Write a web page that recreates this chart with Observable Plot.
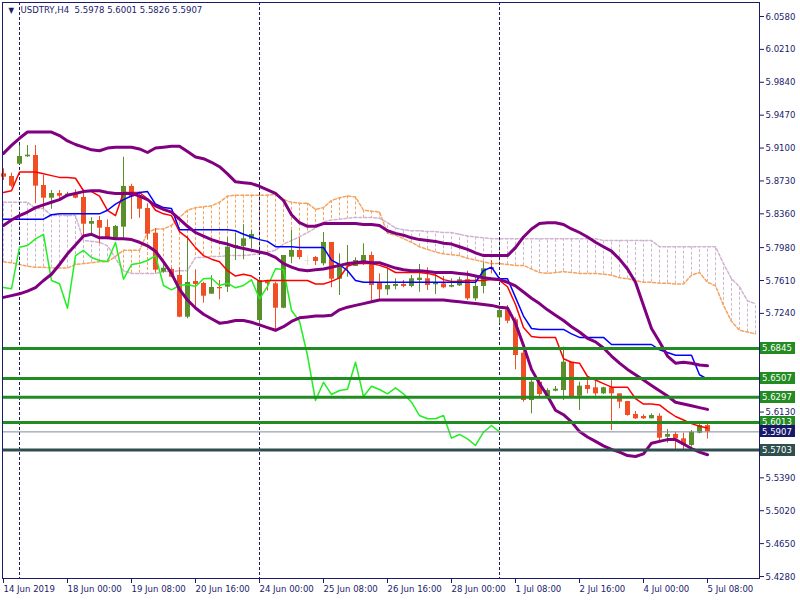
<!DOCTYPE html>
<html><head><meta charset="utf-8">
<script src="https://cdn.jsdelivr.net/npm/d3@7"></script>
<script src="https://cdn.jsdelivr.net/npm/@observablehq/plot@0.6"></script>
<style>body{margin:0;background:#fff}</style>
</head><body><div id="chart"></div>
<script>
// ---- data (USDTRY H4, 14 Jun 2019 16:00 .. 5 Jul 2019 08:00) ----
const openP  = [5.8810,5.8780,5.8918,5.9002,5.9016,5.8679,5.8536,5.8589,5.8563,5.8578,
 5.8544,5.8243,5.8285,5.8206,5.8079,5.8210,5.8668,5.8563,5.8420,5.8142,
 5.7703,5.7734,5.7666,5.7197,5.7599,5.7576,5.7456,5.7531,5.7535,5.7973,
 5.7993,5.8075,5.7160,5.7610,5.7573,5.7298,5.7872,5.7948,5.7835,5.7869,
 5.7798,5.8038,5.7625,5.7771,5.7768,5.7798,5.7891,5.7580,5.7505,5.7543,
 5.7565,5.7543,5.7610,5.7629,5.7562,5.7572,5.7535,5.7550,5.7618,5.7404,
 5.7543,5.7753,5.7190,5.7280,5.7168,5.6792,5.6260,5.6466,5.6297,5.6365,
 5.6372,5.6691,5.6308,5.6429,5.6403,5.6335,5.6403,5.6335,5.6249,5.6103,
 5.6080,5.6054,5.6083,5.5847,5.5878,5.5829,5.5754,5.5892,5.5978];
const highP  = [5.8867,5.8817,5.9129,5.9129,5.9129,5.8791,5.8623,5.8623,5.8603,5.8630,
 5.8630,5.8315,5.8330,5.8293,5.8229,5.8997,5.8693,5.8603,5.8473,5.8195,
 5.7835,5.7753,5.7753,5.8105,5.7730,5.7591,5.7663,5.7610,5.8090,5.8142,
 5.8237,5.8176,5.7629,5.7610,5.7591,5.7891,5.8173,5.8090,5.7891,5.7880,
 5.8150,5.8038,5.7910,5.8004,5.7865,5.8023,5.7928,5.7685,5.7742,5.7629,
 5.7610,5.7666,5.7790,5.7753,5.7678,5.7655,5.7629,5.7647,5.7715,5.7647,
 5.7809,5.7835,5.7292,5.7329,5.7190,5.6845,5.6485,5.6485,5.6392,5.6418,
 5.6860,5.6691,5.6466,5.6522,5.6485,5.6410,5.6485,5.6335,5.6249,5.6136,
 5.6099,5.6110,5.6110,5.5934,5.5903,5.5892,5.5923,5.5990,5.6001];
const lowP   = [5.8735,5.8653,5.8912,5.8994,5.8473,5.8417,5.8412,5.8510,5.8547,5.8529,
 5.8090,5.8135,5.8023,5.8068,5.8068,5.8079,5.8296,5.8311,5.8068,5.7692,
 5.7692,5.7640,5.7190,5.7179,5.7292,5.7355,5.7456,5.7393,5.7475,5.7835,
 5.7843,5.7967,5.7115,5.7490,5.7028,5.7292,5.7798,5.7843,5.7779,5.7779,
 5.7775,5.7528,5.7441,5.7647,5.7768,5.7779,5.7385,5.7393,5.7441,5.7505,
 5.7528,5.7528,5.7478,5.7498,5.7453,5.7517,5.7528,5.7543,5.7385,5.7377,
 5.7460,5.7685,5.7123,5.7123,5.6605,5.6241,5.6110,5.6279,5.6279,5.6358,
 5.6260,5.6297,5.6148,5.6335,5.6308,5.6327,5.5923,5.6167,5.6083,5.6046,
 5.6046,5.6054,5.5810,5.5780,5.5698,5.5705,5.5735,5.5885,5.5826];
const closeP = [5.8772,5.8671,5.9005,5.9020,5.8671,5.8536,5.8589,5.8558,5.8581,5.8536,
 5.8243,5.8274,5.8198,5.8090,5.8218,5.8668,5.8547,5.8412,5.8131,5.7726,
 5.7748,5.7647,5.7197,5.7588,5.7565,5.7433,5.7531,5.7517,5.7985,5.8004,
 5.8079,5.8128,5.7610,5.7573,5.7298,5.7891,5.7948,5.7869,5.7835,5.7824,
 5.8038,5.7625,5.7790,5.7805,5.7835,5.7891,5.7554,5.7505,5.7554,5.7565,
 5.7543,5.7629,5.7636,5.7554,5.7580,5.7528,5.7554,5.7618,5.7404,5.7543,
 5.7742,5.7734,5.7273,5.7152,5.6766,5.6260,5.6466,5.6327,5.6372,5.6387,
 5.6691,5.6305,5.6421,5.6384,5.6335,5.6403,5.6335,5.6241,5.6091,5.6054,
 5.6054,5.6091,5.5836,5.5878,5.5829,5.5754,5.5903,5.5979,5.5907];

// Bollinger bands
const bbUpper = [5.904,5.913,5.921,5.928,5.928,5.928,5.928,5.924,5.918,5.914,
 5.911,5.908,5.907,5.910,5.911,5.911,5.911,5.909,5.905,5.910,
 5.911,5.912,5.912,5.906,5.900,5.898,5.894,5.889,5.881,5.872,
 5.871,5.870,5.867,5.863,5.859,5.851,5.835,5.826,5.822,5.822,
 5.825,5.825,5.825,5.825,5.825,5.824,5.824,5.823,5.817,5.814,
 5.812,5.809,5.807,5.806,5.805,5.803,5.802,5.799,5.796,5.792,
 5.789,5.789,5.789,5.789,5.798,5.810,5.819,5.825,5.826,5.826,
 5.824,5.819,5.815,5.810,5.804,5.799,5.794,5.785,5.774,5.759,
 5.733,5.707,5.692,5.676,5.668,5.669,5.668,5.666,5.665];
const bbMiddle = [5.823,5.829,5.834,5.838,5.843,5.846,5.849,5.852,5.857,5.859,
 5.861,5.862,5.862,5.860,5.859,5.859,5.859,5.856,5.852,5.845,
 5.841,5.838,5.830,5.822,5.815,5.811,5.807,5.804,5.802,5.799,
 5.797,5.795,5.793,5.791,5.787,5.780,5.776,5.773,5.772,5.773,
 5.774,5.776,5.778,5.780,5.781,5.782,5.781,5.781,5.778,5.775,
 5.773,5.772,5.772,5.771,5.770,5.770,5.770,5.769,5.768,5.766,
 5.764,5.763,5.762,5.759,5.755,5.748,5.741,5.735,5.728,5.722,
 5.716,5.709,5.703,5.696,5.692,5.685,5.676,5.668,5.661,5.655,
 5.649,5.643,5.637,5.631,5.624,5.622,5.620,5.618,5.616];
const bbLower = [5.742,5.744,5.746,5.749,5.753,5.761,5.768,5.779,5.791,5.801,
 5.811,5.813,5.809,5.809,5.808,5.808,5.807,5.804,5.800,5.794,
 5.782,5.769,5.751,5.739,5.730,5.723,5.718,5.713,5.714,5.716,
 5.716,5.714,5.711,5.708,5.705,5.709,5.715,5.719,5.720,5.721,
 5.721,5.722,5.728,5.731,5.733,5.735,5.737,5.739,5.739,5.739,
 5.739,5.739,5.739,5.739,5.739,5.739,5.738,5.737,5.736,5.735,
 5.734,5.733,5.731,5.730,5.713,5.688,5.661,5.645,5.631,5.615,
 5.610,5.602,5.591,5.585,5.580,5.575,5.571,5.568,5.564,5.563,
 5.566,5.578,5.580,5.582,5.582,5.577,5.572,5.568,5.565];

// Ichimoku
const tenkan = [5.860,5.862,5.883,5.883,5.883,5.881,5.879,5.877,5.877,5.876,
 5.862,5.861,5.856,5.840,5.834,5.860,5.860,5.860,5.853,5.840,
 5.836,5.834,5.816,5.809,5.798,5.789,5.785,5.782,5.772,5.766,
 5.768,5.766,5.760,5.761,5.761,5.761,5.761,5.761,5.761,5.757,
 5.757,5.760,5.764,5.777,5.780,5.780,5.780,5.778,5.775,5.770,
 5.770,5.770,5.770,5.769,5.767,5.762,5.760,5.760,5.761,5.761,
 5.761,5.762,5.761,5.754,5.734,5.708,5.698,5.697,5.697,5.697,
 5.673,5.669,5.668,5.653,5.649,5.645,5.641,5.641,5.641,5.628,
 5.622,5.622,5.621,5.614,5.608,5.604,5.600,5.597,5.595];
const kijun = [5.830,5.830,5.830,5.830,5.830,5.830,5.835,5.836,5.836,5.836,
 5.836,5.836,5.836,5.840,5.847,5.852,5.856,5.860,5.861,5.847,
 5.843,5.842,5.818,5.818,5.818,5.818,5.818,5.818,5.818,5.817,
 5.813,5.810,5.807,5.805,5.799,5.799,5.799,5.798,5.798,5.798,
 5.798,5.784,5.779,5.772,5.761,5.759,5.759,5.759,5.759,5.759,
 5.759,5.759,5.759,5.759,5.759,5.759,5.759,5.759,5.759,5.759,
 5.772,5.776,5.763,5.763,5.742,5.721,5.707,5.706,5.706,5.706,
 5.706,5.701,5.697,5.697,5.697,5.697,5.689,5.689,5.689,5.689,
 5.689,5.689,5.683,5.680,5.677,5.677,5.677,5.655,5.650];
// Senkou spans, already shifted 26 bars forward (bar 0 .. 94)
const spanA = [5.782,5.781,5.779,5.777,5.776,5.776,5.775,5.775,5.775,5.779,
 5.780,5.781,5.782,5.782,5.788,5.795,5.795,5.795,5.815,5.819,
 5.819,5.823,5.832,5.840,5.843,5.844,5.845,5.849,5.856,5.857,
 5.857,5.857,5.857,5.857,5.858,5.852,5.849,5.848,5.848,5.841,
 5.843,5.851,5.854,5.856,5.855,5.840,5.839,5.838,5.814,5.812,
 5.808,5.804,5.799,5.796,5.793,5.791,5.790,5.789,5.786,5.784,
 5.782,5.780,5.780,5.779,5.778,5.778,5.774,5.770,5.769,5.770,
 5.771,5.770,5.769,5.769,5.769,5.768,5.767,5.764,5.763,5.761,
 5.759,5.759,5.758,5.758,5.757,5.757,5.767,5.770,5.759,5.755,
 5.733,5.715,5.705,5.703,5.701];
const spanB = [5.849,5.849,5.849,5.849,5.842,5.842,5.834,5.834,5.834,5.834,
 5.806,5.805,5.804,5.800,5.786,5.772,5.769,5.769,5.769,5.769,
 5.771,5.771,5.772,5.772,5.787,5.787,5.788,5.788,5.789,5.789,
 5.789,5.790,5.791,5.793,5.795,5.802,5.806,5.810,5.815,5.820,
 5.827,5.829,5.830,5.831,5.832,5.832,5.832,5.831,5.826,5.820,
 5.818,5.817,5.817,5.816,5.816,5.815,5.815,5.813,5.811,5.810,
 5.809,5.808,5.808,5.808,5.808,5.808,5.808,5.808,5.808,5.808,
 5.808,5.808,5.808,5.808,5.808,5.806,5.806,5.806,5.806,5.806,
 5.806,5.806,5.799,5.799,5.799,5.799,5.799,5.799,5.799,5.799,
 5.780,5.763,5.754,5.738,5.735];
const chikouShift = 26;

const xTickIndex  = [0,8,16,24,32,40,48,56,64,72,80,88];
const xTickLabels = ["14 Jun 2019","18 Jun 00:00","19 Jun 08:00","20 Jun 16:00","24 Jun 00:00","25 Jun 08:00",
                     "26 Jun 16:00","28 Jun 00:00","1 Jul 08:00","2 Jul 16:00","4 Jul 00:00","5 Jul 08:00"];
// price-scale ticks that are not hidden behind the level labels
const yTicks = [6.0580,6.0210,5.9840,5.9470,5.9100,5.8730,5.8360,5.7980,5.7610,5.7240,
                5.6130,5.5390,5.5020,5.4650,5.4280];
const weekStarts = [2,32,62];
const levels = [5.6845,5.6507,5.6297,5.6013];
const supportLevel = 5.5703;
const bidPrice = 5.5907;
const titleText = "USDTRY,H4  5.5978 5.6001 5.5826 5.5907";

// ---- styling ----
const ink = "#1b1b6b", bull = "#5b8f2b", bear = "#f04f26", dojiC = "#eedccc";
const sandy = "#f4a460", thistle = "#d0b4d0", purple = "#800080";
const lvlGreen = "#228b22", slate = "#2f4f4f", bidGray = "#7f8a99", bidBg = "#18186a";
const font = "'DejaVu Sans Condensed', 'Liberation Sans', sans-serif";

const candles = openP.map((o,i)=>({i,o,h:highP[i],l:lowP[i],c:closeP[i]}));
const col = d => d.c > d.o ? bull : d.c < d.o ? bear : dojiC;
const cloud = spanA.map((a,k)=>({k,a,b:spanB[k]}));
const chikou = closeP.slice(chikouShift).map((c,j)=>({j,c}));
const series = (arr) => arr.map((v,i)=>({i,v}));

const W = 800, H = 600, mL = 2, mR = 41, mT = 2, mB = 22;

const chart = Plot.plot({
  width: W, height: H, marginLeft: mL, marginRight: mR, marginTop: mT, marginBottom: mB,
  style: {fontFamily: font, fontSize: "9.5px", background: "#fff", color: ink, overflow: "visible"},
  x: {domain: [0, 88], range: [3, 707]},
  y: {domain: [5.428, 6.058], range: [576, 16]},
  color: {type: "identity"},
  marks: [
    Plot.ruleX(cloud, {x: "k", y1: "a", y2: "b", stroke: d => d.a > d.b ? sandy : thistle, strokeDasharray: "3,2"}),
    Plot.line(cloud, {x: "k", y: "a", stroke: sandy, strokeDasharray: "3,2"}),
    Plot.line(cloud, {x: "k", y: "b", stroke: thistle, strokeDasharray: "3,2"}),
    Plot.ruleX(weekStarts, {stroke: ink, strokeDasharray: "3,2"}),
    Plot.ruleX(candles, {x: "i", y1: "l", y2: "h", stroke: col}),
    Plot.ruleX(candles, {x: "i", y1: "o", y2: "c", stroke: col, strokeWidth: 5}),
    Plot.ruleY(candles.filter(d => d.o === d.c), {y: "o", x1: d => d.i - 0.3, x2: d => d.i + 0.3, stroke: dojiC}),
    Plot.line(chikou, {x: "j", y: "c", stroke: "#22ee22"}),
    Plot.line(series(tenkan), {x: "i", y: "v", stroke: "#ff0000"}),
    Plot.line(series(kijun), {x: "i", y: "v", stroke: "#0000ff"}),
    Plot.line(series(bbUpper), {x: "i", y: "v", stroke: purple, strokeWidth: 3}),
    Plot.line(series(bbMiddle), {x: "i", y: "v", stroke: purple, strokeWidth: 3}),
    Plot.line(series(bbLower), {x: "i", y: "v", stroke: purple, strokeWidth: 3}),
    Plot.ruleY(levels, {stroke: lvlGreen, strokeWidth: 3}),
    Plot.ruleY([supportLevel], {stroke: slate, strokeWidth: 3}),
    Plot.ruleY([bidPrice], {stroke: bidGray}),
    Plot.frame({stroke: ink}),
    Plot.axisY({ticks: yTicks, anchor: "right", tickSize: 4, tickPadding: 2, tickFormat: d => d.toFixed(4), label: null}),
    Plot.axisX({ticks: xTickIndex, anchor: "bottom", tickSize: 5, tickPadding: 2, textAnchor: "start", dx: 0,
                tickFormat: d => xTickLabels[xTickIndex.indexOf(d)], label: null}),
    Plot.text(["▼"], {frameAnchor: "top-left", dx: 6, dy: 5, fontSize: 8, lineAnchor: "top", textAnchor: "start", fill: ink}),
    Plot.text([titleText], {frameAnchor: "top-left", dx: 18, dy: 4, lineAnchor: "top", textAnchor: "start", fill: ink})
  ]
});

// price labels on the right axis
const ys = chart.scale("y");
const svg = d3.select(chart);
const lab = svg.append("g").attr("font-family", font).attr("font-size", "9.5px").attr("text-anchor", "start");
const labelList = levels.map(v => ({v, bg: lvlGreen})).concat([{v: bidPrice, bg: bidBg}, {v: supportLevel, bg: slate}]);
for (const {v, bg} of labelList) {
  const y = ys.apply(v);
  lab.append("rect").attr("x", W - mR + 1).attr("y", Math.round(y) - 6).attr("width", 35).attr("height", 12).attr("fill", bg);
  lab.append("text").attr("x", W - mR + 3).attr("y", y).attr("dy", "0.36em").attr("fill", "#fff").text(v.toFixed(4));
}
document.getElementById("chart").append(chart);
</script>
</body></html>
